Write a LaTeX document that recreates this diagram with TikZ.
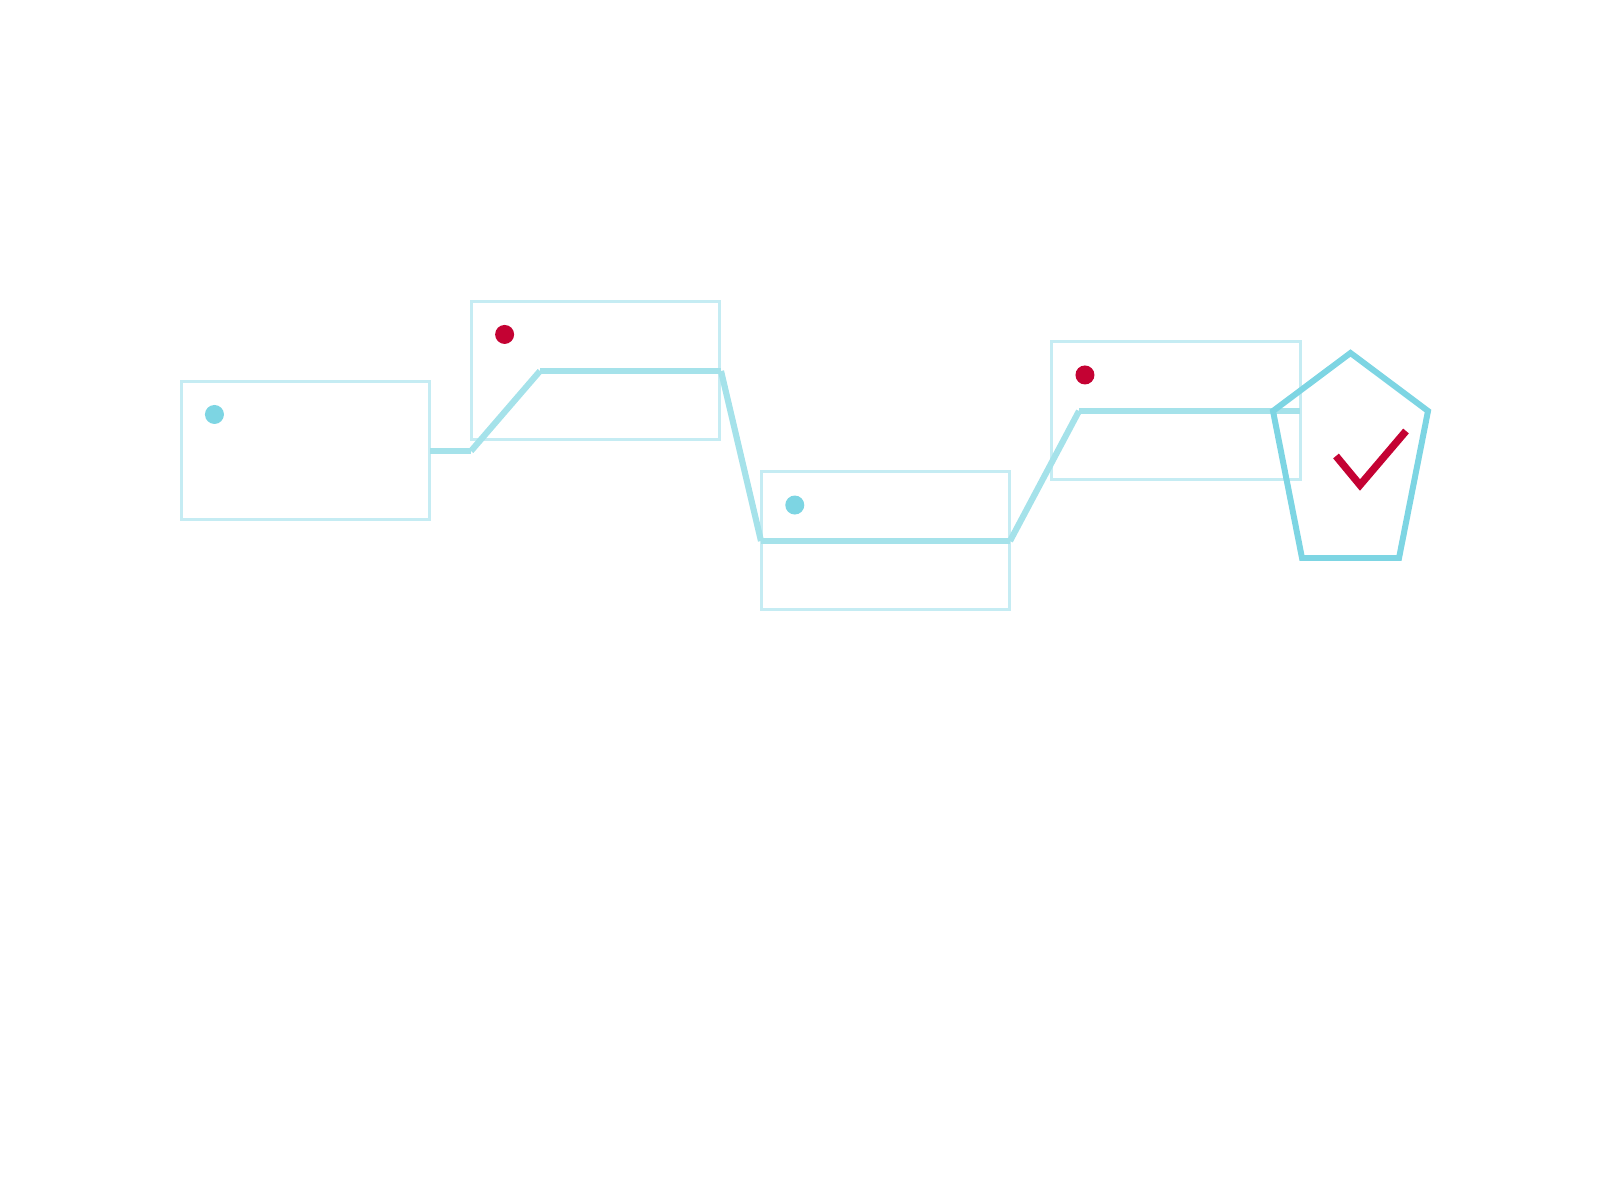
\documentclass[tikz,border=0pt]{standalone}
\usepackage{xcolor}
\usepackage{tikz}
\usetikzlibrary{positioning}
\definecolor{boxcyan}{HTML}{C5ECF3}
\definecolor{linkcyan}{HTML}{A5E2EA}
\definecolor{markcyan}{HTML}{7DD5E3}
\definecolor{markred}{HTML}{C40233}
\begin{document}
\begin{tikzpicture}[x=0.01cm, y=-0.01cm,
  box/.style={rectangle, draw=boxcyan, line width=0.85pt, outer sep=0pt, minimum width=2.48cm, minimum height=1.38cm},
  dotcyan/.style={circle, fill=markcyan, inner sep=0pt, minimum size=0.19cm},
  dotred/.style={circle, fill=markred, inner sep=0pt, minimum size=0.19cm},
  link/.style={draw=linkcyan, line width=1.75pt}]
\useasboundingbox (0,0) rectangle (1600,1200);
\node[box] (b1) at (305.5,450.2) {};
\node[box, right=0.42cm of b1, yshift=0.8cm] (b2) {};
\node[box, right=0.42cm of b2, yshift=-1.705cm] (b3) {};
\node[box, right=0.42cm of b3, yshift=1.3cm] (b4) {};
\node[dotcyan] (d1) at ([xshift=0.33cm, yshift=-0.333cm]b1.north west) {};
\node[dotred] (d2) at ([xshift=0.33cm, yshift=-0.333cm]b2.north west) {};
\node[dotcyan] (d3) at ([xshift=0.33cm, yshift=-0.333cm]b3.north west) {};
\node[dotred] (d4) at ([xshift=0.33cm, yshift=-0.333cm]b4.north west) {};
% kinks of the line
\coordinate (k0) at (430,451);
\coordinate (k1) at (471,451);
\coordinate (k2) at (540,371);
\coordinate (k3) at (721,371);
\coordinate (k4) at (761,541);
\coordinate (k5) at (1010,541);
\coordinate (k6) at (1079,411);
\coordinate (k7) at (1300,411);
\draw[link] (k0)--(k1); \draw[link] (k1)--(k2); \draw[link] (k2)--(k3); \draw[link] (k3)--(k4);
\draw[link] (k4)--(k5); \draw[link] (k5)--(k6); \draw[link] (k6)--(k7);
% shield and tick
\draw[draw=markcyan, line width=1.7pt] (1350.5,353)--(1428,411)--(1399,558)--(1302,558)--(1273,411)--cycle;
\draw[draw=markred, line width=2.1pt] (1336,456)--(1360,485)--(1406,431);
\end{tikzpicture}
\end{document}
